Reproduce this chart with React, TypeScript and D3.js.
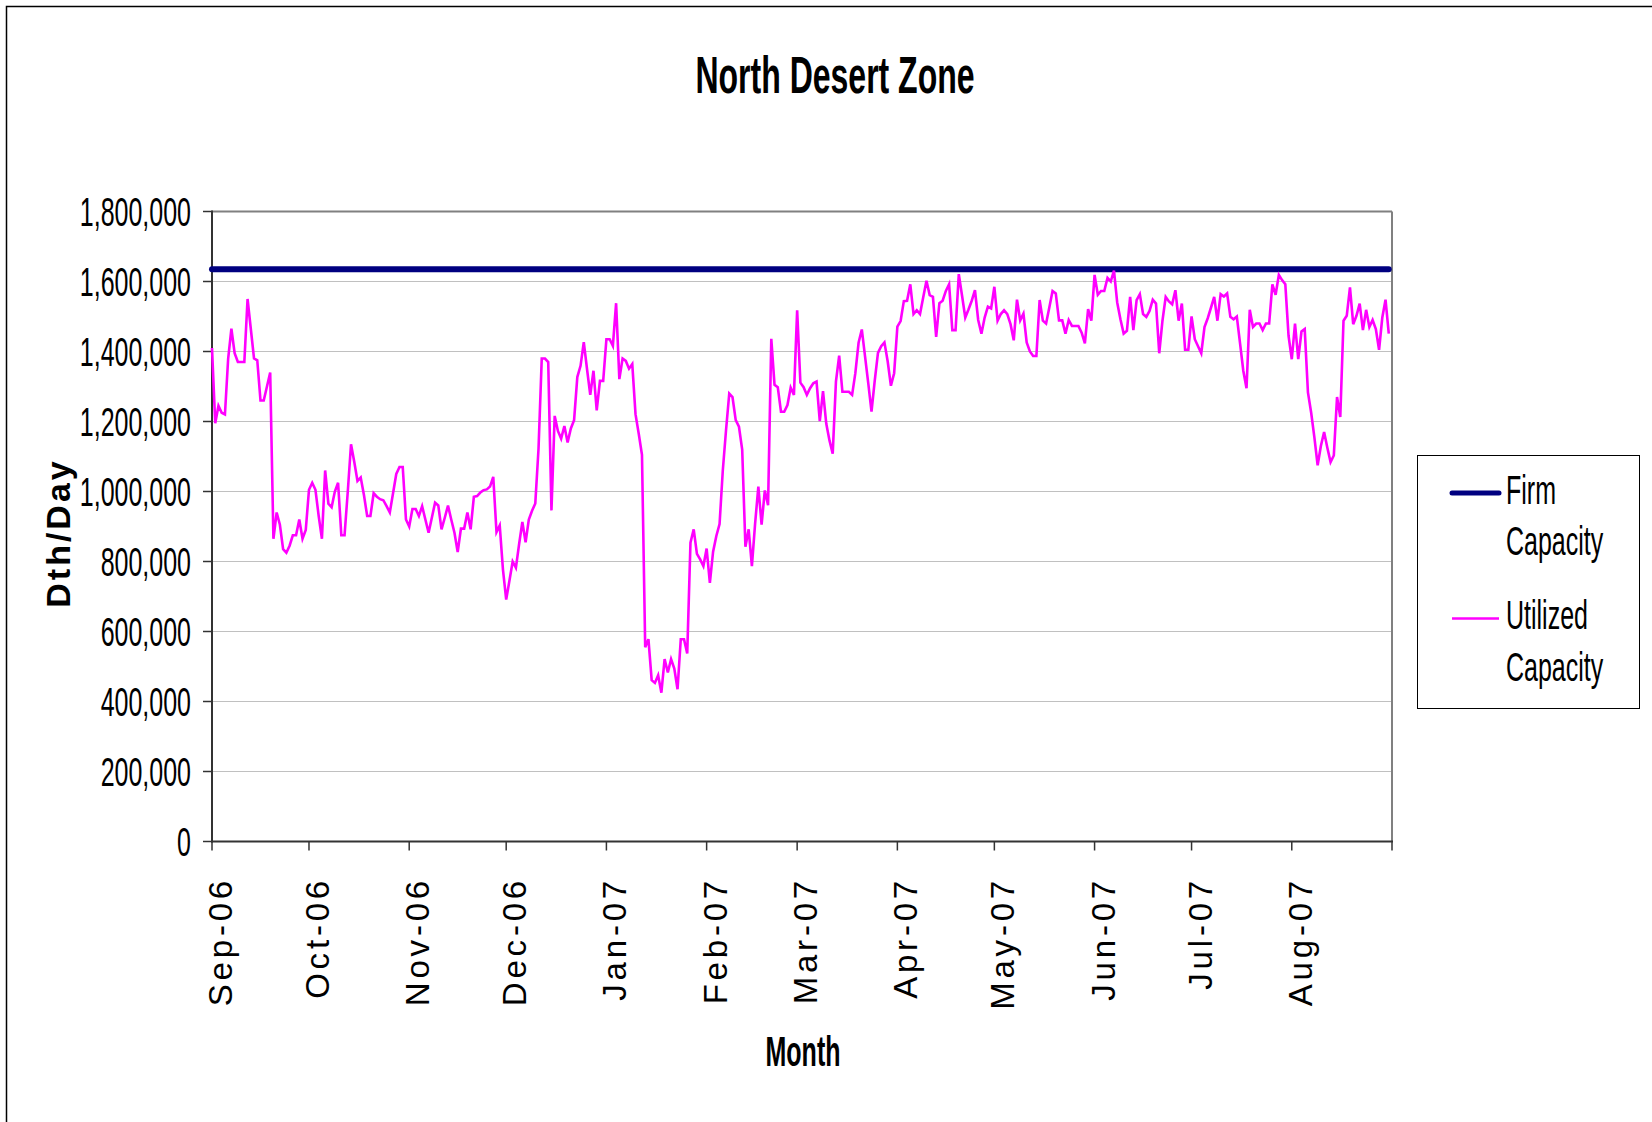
import React from 'react';
import * as d3 from 'd3';

// ---------------- data ----------------
const TITLE = 'North Desert Zone';
const Y_TITLE = 'Dth/Day';
const X_TITLE = 'Month';
const SERIES_NAMES = ['Firm Capacity', 'Utilized Capacity'];
const START_DATE = '2006-09-01';
const END_DATE = '2007-09-01';
const MONTH_LABELS = ['Sep-06', 'Oct-06', 'Nov-06', 'Dec-06', 'Jan-07', 'Feb-07', 'Mar-07', 'Apr-07', 'May-07', 'Jun-07', 'Jul-07', 'Aug-07'];
const Y_TICKS = [0, 200000, 400000, 600000, 800000, 1000000, 1200000, 1400000, 1600000, 1800000];
const FIRM_CAPACITY = 1635000;

// Utilized capacity, daily values (Dth/Day), one array per month
const sep06 = [1410000, 1195000, 1245000, 1225000, 1220000, 1380000, 1465000, 1395000, 1370000, 1370000,
  1370000, 1550000, 1465000, 1380000, 1375000, 1260000, 1260000, 1300000, 1340000, 865000,
  940000, 905000, 835000, 825000, 845000, 875000, 875000, 920000, 865000, 890000];
const oct06 = [1005000, 1025000, 1005000, 930000, 865000, 1060000, 965000, 955000, 1000000, 1025000,
  875000, 875000, 1000000, 1135000, 1085000, 1030000, 1040000, 990000, 930000, 930000,
  995000, 985000, 978000, 975000, 958000, 940000, 995000, 1050000, 1070000, 1070000, 920000];
const nov06 = [900000, 950000, 950000, 930000, 958000, 920000, 882000, 925000, 968000, 960000,
  892000, 925000, 960000, 920000, 882000, 827000, 894000, 894000, 940000, 892000,
  985000, 987000, 997000, 1004000, 1006000, 1014000, 1042000, 884000, 903000, 777000];
const dec06 = [691000, 745000, 800000, 782000, 850000, 913000, 855000, 920000, 945000, 966000,
  1122000, 1380000, 1380000, 1370000, 946000, 1216000, 1173000, 1151000, 1187000, 1140000,
  1180000, 1204000, 1327000, 1359000, 1427000, 1350000, 1276000, 1345000, 1232000, 1316000, 1316000];
const jan07 = [1435000, 1435000, 1416000, 1538000, 1321000, 1380000, 1373000, 1351000, 1364000, 1221000,
  1165000, 1105000, 555000, 578000, 461000, 453000, 475000, 425000, 521000, 483000,
  521000, 494000, 435000, 578000, 578000, 537000, 854000, 892000, 822000, 806000, 787000];
const feb07 = [837000, 739000, 828000, 873000, 907000, 1060000, 1175000, 1280000, 1270000, 1204000,
  1185000, 1120000, 842000, 892000, 787000, 909000, 1014000, 905000, 1003000, 961000,
  1436000, 1305000, 1298000, 1228000, 1228000, 1247000, 1297000, 1276000];
const mar07 = [1518000, 1311000, 1298000, 1276000, 1295000, 1309000, 1314000, 1201000, 1287000, 1194000,
  1146000, 1108000, 1314000, 1388000, 1285000, 1285000, 1285000, 1276000, 1338000, 1425000,
  1463000, 1386000, 1309000, 1228000, 1317000, 1396000, 1415000, 1426000, 1372000, 1302000, 1338000];
const apr07 = [1471000, 1487000, 1544000, 1545000, 1592000, 1507000, 1518000, 1507000, 1555000, 1602000,
  1561000, 1556000, 1442000, 1538000, 1545000, 1573000, 1592000, 1461000, 1461000, 1621000,
  1560000, 1497000, 1520000, 1545000, 1575000, 1490000, 1451000, 1497000, 1528000, 1523000];
const may07 = [1585000, 1488000, 1507000, 1518000, 1507000, 1478000, 1432000, 1548000, 1489000, 1508000,
  1426000, 1400000, 1387000, 1387000, 1547000, 1488000, 1480000, 1526000, 1573000, 1566000,
  1489000, 1489000, 1451000, 1490000, 1473000, 1473000, 1473000, 1454000, 1423000, 1521000, 1488000];
const jun07 = [1619000, 1562000, 1573000, 1573000, 1610000, 1600000, 1631000, 1540000, 1492000, 1451000,
  1459000, 1556000, 1461000, 1547000, 1564000, 1507000, 1499000, 1516000, 1548000, 1537000,
  1395000, 1488000, 1556000, 1543000, 1535000, 1575000, 1488000, 1537000, 1405000, 1405000];
const jul07 = [1500000, 1435000, 1415000, 1395000, 1470000, 1495000, 1525000, 1556000, 1488000, 1564000,
  1557000, 1566000, 1499000, 1492000, 1500000, 1423000, 1345000, 1295000, 1519000, 1470000,
  1480000, 1480000, 1461000, 1480000, 1480000, 1592000, 1562000, 1619000, 1604000, 1592000, 1445000];
const aug07 = [1378000, 1480000, 1378000, 1457000, 1464000, 1283000, 1225000, 1154000, 1075000, 1130000,
  1170000, 1125000, 1084000, 1103000, 1270000, 1213000, 1488000, 1502000, 1583000, 1478000,
  1502000, 1537000, 1461000, 1519000, 1470000, 1490000, 1464000, 1405000, 1497000, 1548000, 1451000];

// ---------------- styles ----------------
const FONT = '"Liberation Sans", Arial, Helvetica, sans-serif';
const MAGENTA = '#FF00FF';
const NAVY = '#000080';
const STRETCH = 1.65;

export default function App() {
  const W = 1652;
  const H = 1122;
  const plot = { left: 212, right: 1392, top: 211.5, bottom: 841.5 };

  const start = new Date(START_DATE + 'T00:00:00Z');
  const end = new Date(END_DATE + 'T00:00:00Z');
  const x = d3.scaleUtc().domain([start, end]).range([plot.left, plot.right]);
  const y = d3.scaleLinear().domain([0, 1800000]).range([plot.bottom, plot.top]);

  const values = [...sep06, ...oct06, ...nov06, ...dec06, ...jan07, ...feb07, ...mar07, ...apr07, ...may07, ...jun07, ...jul07, ...aug07];
  const utilized = values.map((v, i) => ({ date: d3.utcDay.offset(start, i), v }));
  const firm = utilized.map((d) => ({ date: d.date, v: FIRM_CAPACITY }));

  const line = d3.line<{ date: Date; v: number }>().x((d) => x(d.date)).y((d) => y(d.v));
  const monthTicks = d3.utcMonth.range(start, d3.utcDay.offset(end, 1));
  const fmt = d3.format(',');

  return (
    <svg width={W} height={H} style={{ position: 'absolute', left: 0, top: 0, background: '#fff' }} fontFamily={FONT}>
      <rect x={0} y={0} width={W} height={H} fill="#fff" />
      {/* outer chart border */}
      <rect x={6.5} y={6.5} width={W + 40} height={H + 40} fill="none" stroke="#000" strokeWidth={1.5} />

      {/* title */}
      <text transform={`translate(835,92.7) scale(1,1.6)`} textAnchor="middle" fontWeight="bold" fontSize={32} fill="#000">{TITLE}</text>

      {/* gridlines */}
      {Y_TICKS.map((t) => (
        t > 0 && t < 1800000 ? <line key={'g' + t} x1={plot.left} x2={plot.right} y1={y(t)} y2={y(t)} stroke="#C0C0C0" strokeWidth={1} /> : null
      ))}
      {/* plot frame top/right */}
      <line x1={plot.left} x2={plot.right} y1={plot.top} y2={plot.top} stroke="#808080" strokeWidth={2} />
      <line x1={plot.right} x2={plot.right} y1={plot.top} y2={plot.bottom} stroke="#808080" strokeWidth={2} />

      {/* y axis */}
      <line x1={plot.left} x2={plot.left} y1={plot.top - 1} y2={plot.bottom + 1} stroke="#333" strokeWidth={2} />
      {Y_TICKS.map((t) => (
        <g key={'yt' + t}>
          <line x1={plot.left - 9} x2={plot.left} y1={y(t)} y2={y(t)} stroke="#333" strokeWidth={1.5} />
          <text transform={`translate(191,${y(t) + 0.358 * 25 * STRETCH}) scale(1,${STRETCH})`} textAnchor="end" fontSize={25} fill="#000">{fmt(t)}</text>
        </g>
      ))}

      {/* x axis */}
      <line x1={plot.left - 1} x2={plot.right + 1} y1={plot.bottom} y2={plot.bottom} stroke="#333" strokeWidth={2} />
      {monthTicks.map((d, i) => (
        <g key={'xt' + i}>
          <line x1={x(d)} x2={x(d)} y1={plot.bottom} y2={plot.bottom + 9} stroke="#333" strokeWidth={1.5} />
          {i < MONTH_LABELS.length ? (
            <text transform={`translate(${x(d) + 20},877) rotate(-90)`} textAnchor="end" fontSize={33} letterSpacing={3.8} fill="#000">{MONTH_LABELS[i]}</text>
          ) : null}
        </g>
      ))}

      {/* series */}
      <path d={line(firm) || ''} fill="none" stroke={NAVY} strokeWidth={6} strokeLinecap="round" />
      <path d={line(utilized) || ''} fill="none" stroke={MAGENTA} strokeWidth={2.6} strokeLinejoin="miter" />

      {/* axis titles */}
      <text transform={`translate(${803},1066) scale(1,1.68)`} textAnchor="middle" fontWeight="bold" fontSize={25} fill="#000">{X_TITLE}</text>
      <text transform={`translate(70,533) rotate(-90)`} textAnchor="middle" fontWeight="bold" fontSize={34} letterSpacing={3} fill="#000">{Y_TITLE}</text>

      {/* legend */}
      <rect x={1417.5} y={455.5} width={222} height={253} fill="#fff" stroke="#000" strokeWidth={1} />
      <line x1={1452} x2={1499} y1={493} y2={493} stroke={NAVY} strokeWidth={5} strokeLinecap="round" />
      <line x1={1452} x2={1499} y1={618.5} y2={618.5} stroke={MAGENTA} strokeWidth={2.5} />
      {[
        { t: SERIES_NAMES[0].split(' ')[0], y: 503.6 },
        { t: SERIES_NAMES[0].split(' ')[1], y: 555 },
        { t: SERIES_NAMES[1].split(' ')[0], y: 629 },
        { t: SERIES_NAMES[1].split(' ')[1], y: 680.6 },
      ].map((l, i) => (
        <text key={'lg' + i} transform={`translate(1506,${l.y}) scale(1,${STRETCH})`} fontSize={25} fill="#000">{l.t}</text>
      ))}
    </svg>
  );
}
